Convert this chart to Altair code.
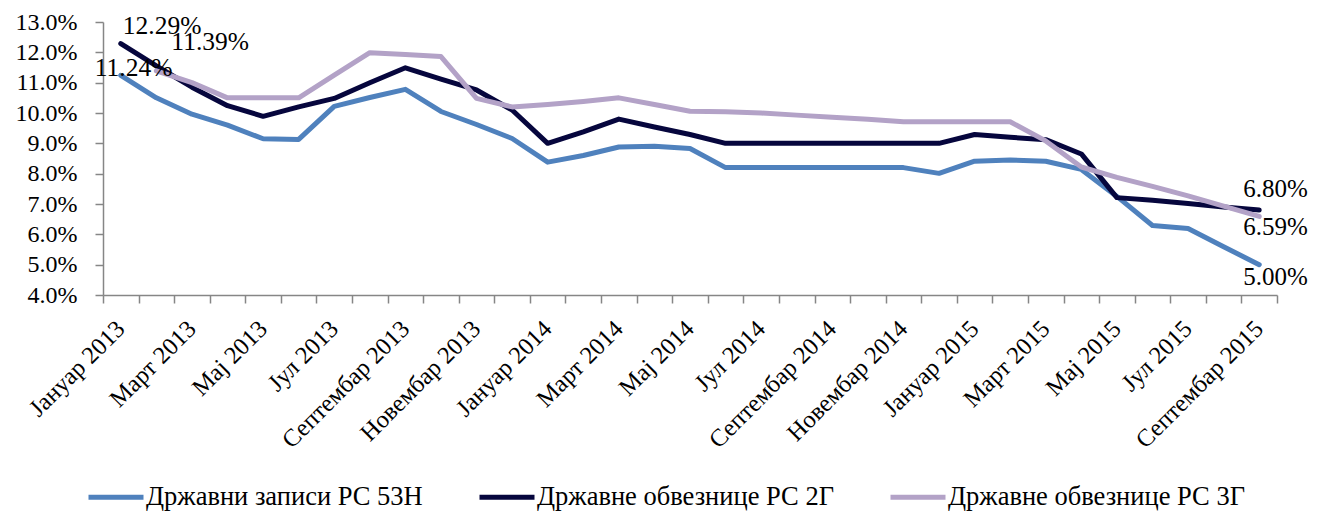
import json
import altair as alt
import pandas as pd

month_names = ["Јануар", "Фебруар", "Март", "Април", "Мај", "Јун", "Јул",
               "Август", "Септембар", "Октобар", "Новембар", "Децембар"]
months = [f"{m} {y}" for y in (2013, 2014, 2015) for m in month_names][:33]

series_names = ["Државни записи РС 53Н", "Државне обвезнице РС 2Г", "Државне обвезнице РС 3Г"]
colors = ["#4F81BD", "#06063D", "#B3A2C7"]

zapisi_53n = [11.24, 10.50, 9.96, 9.60, 9.15, 9.13, 10.22, 10.51, 10.78, 10.05,
              9.62, 9.16, 8.38, 8.60, 8.88, 8.90, 8.83, 8.20, 8.20, 8.20,
              8.20, 8.20, 8.20, 8.01, 8.41, 8.45, 8.41, 8.14, 7.25, 6.29,
              6.19, 5.59, 5.00]
obveznice_2g = [12.29, 11.55, 10.85, 10.24, 9.89, 10.20, 10.48, 11.00, 11.49, 11.12,
                10.76, 10.10, 9.00, 9.38, 9.80, 9.54, 9.29, 9.00, 9.00, 9.00,
                9.00, 9.00, 9.00, 9.00, 9.29, 9.20, 9.12, 8.65, 7.21, 7.12,
                7.02, 6.90, 6.80]
obveznice_3g = [None, 11.39, 11.00, 10.50, 10.50, 10.50, 11.25, 11.99, 11.93, 11.86,
                10.48, 10.20, 10.28, 10.38, 10.50, 10.28, 10.06, 10.04, 10.00, 9.93,
                9.86, 9.79, 9.71, 9.71, 9.71, 9.71, 9.08, 8.22, 7.88, 7.58,
                7.27, 6.93, 6.59]

rows = []
for name, vals in zip(series_names, [zapisi_53n, obveznice_2g, obveznice_3g]):
    for i, v in enumerate(vals):
        if v is not None:
            rows.append({"idx": i, "month": months[i], "series": name, "value": v})
df = pd.DataFrame(rows)

FONT = "Liberation Serif"
GRAY = "#868686"
n = len(months)
band_half = 1174 / n / 2

months_js = json.dumps(months, ensure_ascii=False)
label_expr = (f"((datum.value + 0.5) % 2 == 0 && datum.value < {n - 1}) ? "
              f"{months_js}[datum.value + 0.5] : ''")

x_enc = alt.X(
    "idx:Q",
    scale=alt.Scale(domain=[-0.5, n - 0.5], nice=False, zero=False),
    axis=alt.Axis(
        values=[k - 0.5 for k in range(n + 1)],
        labelExpr=label_expr,
        labelAngle=-45,
        labelAlign="right",
        labelBaseline="middle",
        labelOffset=band_half,
        labelPadding=22,
        labelOverlap=False,
        labelFlush=False,
        labelBound=False,
        labelLimit=0,
        labelFont=FONT,
        labelFontSize=24.5,
        labelColor="black",
        tickSize=8,
        tickColor=GRAY,
        tickWidth=1.5,
        domainColor=GRAY,
        domainWidth=1.5,
        grid=False,
        title=None,
    ),
)
y_enc = alt.Y(
    "value:Q",
    scale=alt.Scale(domain=[4, 13], nice=False, zero=False),
    axis=alt.Axis(
        values=list(range(4, 14)),
        labelExpr="format(datum.value, '.1f') + '%'",
        labelFont=FONT,
        labelFontSize=24,
        labelColor="black",
        labelPadding=18,
        tickSize=8,
        tickColor=GRAY,
        tickWidth=1.5,
        domainColor=GRAY,
        domainWidth=1.5,
        grid=False,
        title=None,
    ),
)

base = alt.Chart(df)

lines = base.mark_line(strokeWidth=5, strokeJoin="round", strokeCap="round").encode(
    x=x_enc,
    y=y_enc,
    color=alt.Color(
        "series:N",
        scale=alt.Scale(domain=series_names, range=colors),
        sort=series_names,
        legend=alt.Legend(
            title=None,
            orient="none",
            legendX=-17,
            legendY=445,
            direction="horizontal",
            columnPadding=46,
            symbolType="stroke",
            symbolSize=3025,
            symbolStrokeWidth=5,
            labelOffset=0,
            labelLimit=0,
            labelFont=FONT,
            labelFontSize=26.5,
            labelColor="black",
            padding=0,
        ),
    ),
)


def label(series, idx, dx, dy, size=25.5):
    return (
        base.transform_filter((alt.datum.series == series) & (alt.datum.idx == idx))
        .transform_calculate(txt="format(datum.value, '.2f') + '%'")
        .mark_text(align="left", baseline="alphabetic", dx=dx, dy=dy,
                   font=FONT, fontSize=size, color="black")
        .encode(x=x_enc, y=y_enc, text="txt:N")
    )


labels = [
    label(series_names[1], 0, 2, -10),
    label(series_names[2], 1, 15, -21),
    label(series_names[0], 0, -26, 1),
    label(series_names[1], n - 1, -16, -13, 25),
    label(series_names[2], n - 1, -16, 19, 25),
    label(series_names[0], n - 1, -16, 20, 25),
]

chart = alt.layer(lines, *labels).properties(
    width=1174,
    height=273,
    autosize=alt.AutoSizeParams(type="none"),
    padding={"left": 95, "top": 14, "right": 32, "bottom": 217},
    background="white",
).configure_view(stroke=None)

chart.save("out.html", embed_options={"renderer": "svg", "actions": False})
